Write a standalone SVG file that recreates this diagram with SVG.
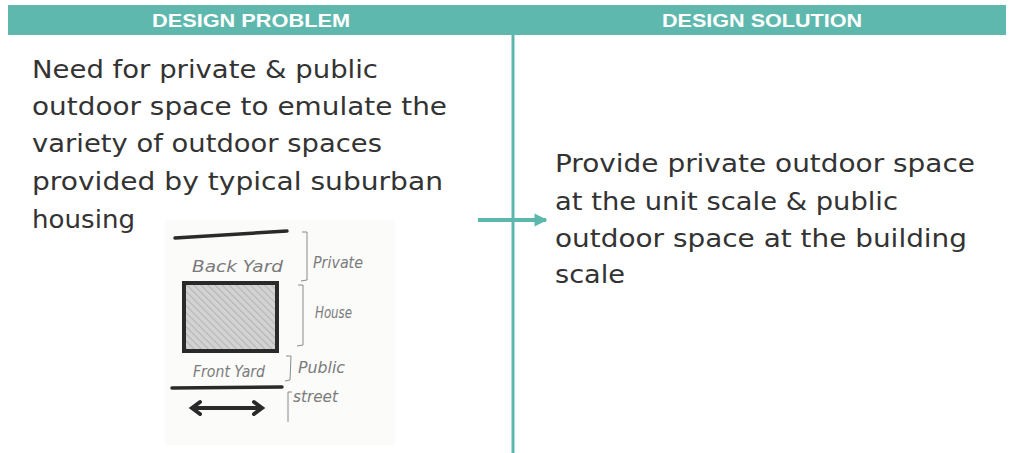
<svg xmlns="http://www.w3.org/2000/svg" width="1011" height="453" viewBox="0 0 1011 453">
<defs>
<style>
.hdr{font-family:"Liberation Sans",Arial,sans-serif;font-weight:bold;font-size:19px;fill:#ffffff;}
.body{font-family:"DejaVu Sans","Liberation Sans",sans-serif;font-size:25px;fill:#333333;}
.hand{font-family:"DejaVu Sans","Liberation Sans",sans-serif;font-size:15px;fill:#7a7a7a;font-style:italic;}
.teal{stroke:#5cb8ad;fill:none;}
.ink{stroke:#2a2a2a;fill:none;stroke-linecap:round;}
.thin{stroke:#8a8a8a;fill:none;stroke-width:1;}
</style>
<marker id="ah" viewBox="0 0 10 10" refX="9" refY="5" markerWidth="3.2" markerHeight="3.6" orient="auto" markerUnits="strokeWidth">
<path d="M0,0 L10,5 L0,10 z" fill="#5cb8ad"/>
</marker>
<pattern id="hatch" width="5" height="5" patternUnits="userSpaceOnUse" patternTransform="rotate(-45)">
<rect width="5" height="5" fill="#d2d2d2"/>
<line x1="0" y1="0" x2="0" y2="5" stroke="#959595" stroke-width="1"/>
</pattern>
</defs>
<rect width="1011" height="453" fill="#ffffff"/>
<g id="header">
<rect x="8" y="5" width="998" height="30" fill="#5fb8ae"/>
<text class="hdr" x="251" y="27" text-anchor="middle" textLength="198" lengthAdjust="spacingAndGlyphs">DESIGN PROBLEM</text>
<text class="hdr" x="762" y="27" text-anchor="middle" textLength="200" lengthAdjust="spacingAndGlyphs">DESIGN SOLUTION</text>
</g>
<g id="problem">
<text class="body" x="32" y="78" textLength="346" lengthAdjust="spacingAndGlyphs">Need for private &amp; public</text>
<text class="body" x="32" y="115" textLength="415" lengthAdjust="spacingAndGlyphs">outdoor space to emulate the</text>
<text class="body" x="32" y="152" textLength="350" lengthAdjust="spacingAndGlyphs">variety of outdoor spaces</text>
<text class="body" x="32" y="190" textLength="411" lengthAdjust="spacingAndGlyphs">provided by  typical suburban</text>
<text class="body" x="32" y="228" textLength="103" lengthAdjust="spacingAndGlyphs">housing</text>
</g>
<g id="sketch">
<rect x="165" y="220" width="230" height="225" fill="#fbfbfa"/>
<path class="ink" d="M175,238 L287,231" stroke-width="3.5"/>
<text class="hand" x="192" y="272" textLength="91" lengthAdjust="spacingAndGlyphs">Back Yard</text>
<path class="thin" d="M302,232 L307,232 L307,280 L301,281"/>
<text class="hand" x="313" y="268" textLength="50" lengthAdjust="spacingAndGlyphs">Private</text>
<rect x="184" y="283" width="93" height="68" fill="url(#hatch)" stroke="#2a2a2a" stroke-width="4"/>
<path class="thin" d="M298,285 L303,285 L303,345 L297,346"/>
<text class="hand" x="315" y="318" textLength="37" lengthAdjust="spacingAndGlyphs">House</text>
<text class="hand" x="193" y="377" textLength="72" lengthAdjust="spacingAndGlyphs">Front Yard</text>
<path class="thin" d="M286,356 L291,356 L290,380 L285,381"/>
<text class="hand" x="298" y="373" textLength="47" lengthAdjust="spacingAndGlyphs">Public</text>
<path class="ink" d="M172,388 L282,387" stroke-width="3.5"/>
<path class="ink" d="M193,408 L261,408 M200,402 L192,408 L200,414 M254,402 L262,408 L254,414" stroke-width="4"/>
<path class="thin" d="M292,392 L288,392 L288,422"/>
<text class="hand" x="293" y="402" textLength="45" lengthAdjust="spacingAndGlyphs">street</text>
</g>
<g id="solution">
<text class="body" x="555" y="172" textLength="420" lengthAdjust="spacingAndGlyphs">Provide private outdoor space</text>
<text class="body" x="555" y="210" textLength="343" lengthAdjust="spacingAndGlyphs">at the unit scale &amp; public</text>
<text class="body" x="555" y="247" textLength="412" lengthAdjust="spacingAndGlyphs">outdoor space at the building</text>
<text class="body" x="555" y="283" textLength="70" lengthAdjust="spacingAndGlyphs">scale</text>
</g>
<g id="connectors">
<line class="teal" x1="513" y1="35" x2="513" y2="453" stroke-width="3"/>
<line class="teal" x1="478" y1="220" x2="546" y2="220" stroke-width="4" marker-end="url(#ah)"/>
</g>
</svg>
